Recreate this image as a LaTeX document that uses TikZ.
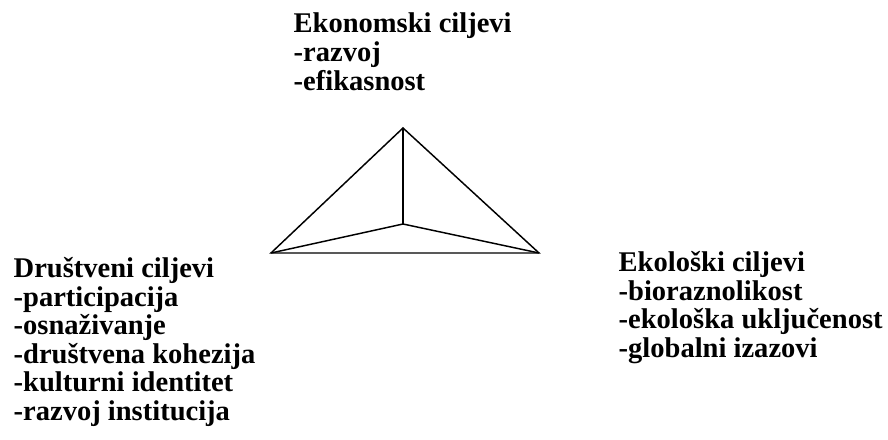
\documentclass[tikz,border=0pt]{standalone}
\usepackage{fontspec}
\setmainfont{Liberation Serif}
\usetikzlibrary{positioning}
\tikzset{
  every picture/.style={line width=1pt},
  goal/.style={align=left,anchor=base west,inner sep=0pt,
    font=\fontsize{21.4}{21.4}\selectfont\bfseries},
  edge/.style={draw,line width=1.1pt,line join=miter},
}

\begin{document}
\begin{tikzpicture}[x=0.75pt,y=-0.75pt]
\useasboundingbox (0,0) rectangle (888,439);
% goals at the three corners (anchored at last baseline)
\node[goal] (eko) at (293,90) {Ekonomski ciljevi\\-razvoj\\-efikasnost};
\node[goal] (dru) at (13,420.5) {Društveni ciljevi\\-participacija\\-osnaživanje\\-društvena kohezija\\-kulturni identitet\\-razvoj institucija};
\node[goal] (ekol) at (618,357.5) {Ekološki ciljevi\\-bioraznolikost\\-ekološka uključenost\\-globalni izazovi};
% pyramid
\coordinate (top) at (403,128);
\coordinate (lft) at (271,253);
\coordinate (rgt) at (539,253);
\coordinate (mid) at (403,224);
\draw[edge] (lft) -- (top) -- (rgt) -- cycle;
\draw[edge] (top) -- (mid);
\draw[edge] (lft) -- (mid) -- (rgt);
\end{tikzpicture}
\end{document}
